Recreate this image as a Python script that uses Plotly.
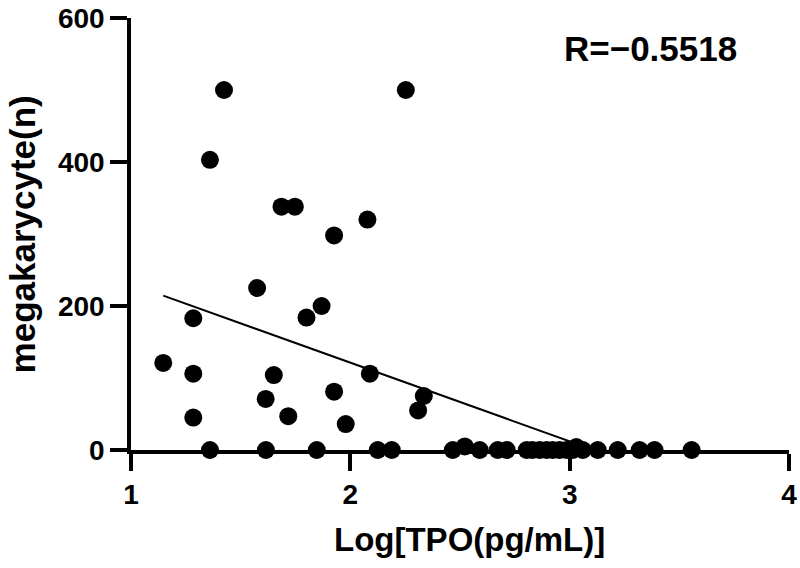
import numpy as np
import plotly.graph_objects as go

# Scatter points: log10 TPO (pg/mL) vs megakaryocyte count
log_tpo = [1.424, 2.253, 1.360, 1.686, 1.747, 2.078, 1.926, 1.575, 1.284, 1.800,
           1.869, 1.147, 1.284, 1.651, 2.089, 1.614, 1.926, 1.717, 1.284, 1.979,
           2.335, 2.309,
           1.360, 1.615, 1.847, 2.125, 2.189, 2.467, 2.522, 2.590, 2.672, 2.713,
           2.804, 2.830, 2.863, 2.895, 2.923, 2.954, 2.986, 3.014, 3.030, 3.060,
           3.128, 3.219, 3.319, 3.387, 3.556]
megakaryocyte = [500, 500, 403, 338, 338, 320, 298, 225, 183, 184,
                 200, 121, 106, 104, 106, 71, 81, 47, 45, 36,
                 75, 55,
                 0, 0, 0, 0, 0, 0, 5, 0, 0, 0,
                 0, 0, 0, 0, 0, 0, 0, 0, 4, 0,
                 0, 0, 0, 0, 0]

x_ticks = [1, 2, 3, 4]
y_ticks = [0, 200, 400, 600]
r_label = "R=\u22120.5518"

# linear regression line across the data range (clipped at y=0 by the axis)
slope, intercept = np.polyfit(log_tpo, megakaryocyte, 1)
fit_x = [min(log_tpo), max(log_tpo)]
fit_y = [intercept + slope * v for v in fit_x]

FONT = "Liberation Sans"

fig = go.Figure()
fig.add_trace(go.Scatter(x=fit_x, y=fit_y, mode="lines",
                         line=dict(color="black", width=2), hoverinfo="skip",
                         showlegend=False))
fig.add_trace(go.Scatter(x=log_tpo, y=megakaryocyte, mode="markers",
                         marker=dict(color="black", size=18, line=dict(width=0)),
                         cliponaxis=False, showlegend=False))

axis_common = dict(showline=True, linecolor="black", linewidth=3.5,
                   ticks="outside", ticklen=17, tickwidth=3.5, tickcolor="black",
                   showgrid=False, zeroline=False, ticklabeloverflow="allow",
                   automargin=False,
                   tickfont=dict(family=FONT, size=28, color="black", weight="bold"))

fig.update_xaxes(range=[1, 4], tickvals=x_ticks, ticktext=[str(t) for t in x_ticks],
                 **axis_common)
fig.update_yaxes(range=[0, 600], tickvals=y_ticks, ticktext=[str(t) for t in y_ticks],
                 **axis_common)

fig.add_annotation(text="Log[TPO(pg/mL)]", xref="paper", yref="paper",
                   x=0.515, y=-0.208, xanchor="center", yanchor="middle",
                   showarrow=False,
                   font=dict(family=FONT, size=33, color="black", weight="bold"))
fig.add_annotation(text="megakarycyte(n)", xref="paper", yref="paper",
                   x=-0.165, y=0.50, xanchor="center", yanchor="middle",
                   textangle=-90, showarrow=False,
                   font=dict(family=FONT, size=35, color="black", weight="bold"))
fig.add_annotation(text=r_label, xref="paper", yref="paper",
                   x=0.789, y=0.93, xanchor="center", yanchor="middle",
                   showarrow=False,
                   font=dict(family=FONT, size=35, color="black", weight="bold"))

fig.update_layout(width=800, height=568, plot_bgcolor="white", paper_bgcolor="white",
                  margin=dict(l=131, r=11, t=18, b=118))

fig.write_html("out.html", config={"displayModeBar": False},
               post_script="document.body.style.margin='0';document.body.style.overflow='hidden';")
